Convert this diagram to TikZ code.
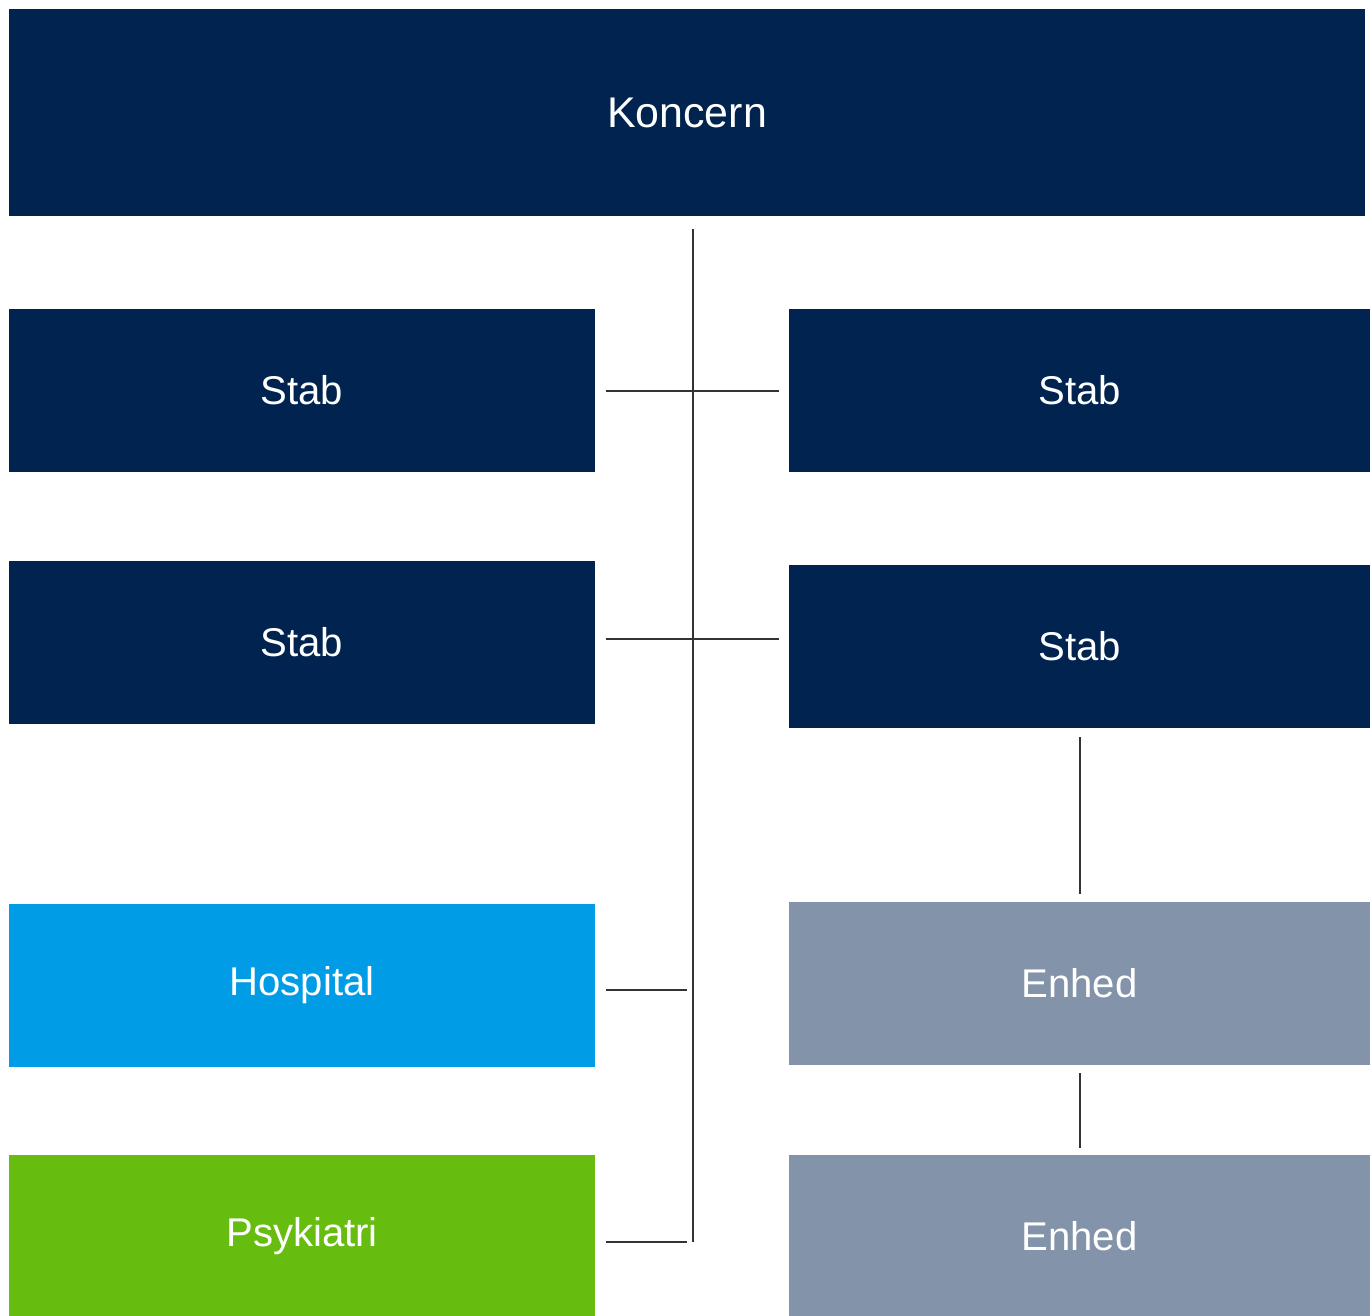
\documentclass[tikz,border=0pt]{standalone}
\usepackage{fontspec}
\setmainfont{Liberation Sans}
\usetikzlibrary{positioning}
\definecolor{navy}{HTML}{00244F}
\definecolor{hospblue}{HTML}{009CE6}
\definecolor{psykgreen}{HTML}{66BD10}
\definecolor{enhedgray}{HTML}{8293AA}
\definecolor{linegray}{HTML}{333333}
\tikzset{
    font=\fontsize{11.4}{13}\selectfont,
    %Define style for boxes
    kasse/.style={
           rectangle,
           text=white,
           inner sep=0pt,
           minimum width=5.86cm,
           minimum height=1.62cm},
    stab/.style={kasse,fill=navy},
    stabR/.style={kasse,fill=navy,minimum width=5.81cm},
    hospital/.style={kasse,fill=hospblue},
    psykiatri/.style={kasse,fill=psykgreen},
    enhed/.style={kasse,fill=enhedgray,minimum width=5.81cm},
    koncern/.style={kasse,fill=navy,minimum width=13.56cm,minimum height=2.07cm,
           font=\fontsize{12.2}{14}\selectfont},
    % Define line style
    linje/.style={
           draw=linegray,
           line width=0.02cm}
}

\begin{document}
\begin{tikzpicture}[x=0.01cm,y=-0.01cm]
  \useasboundingbox (0,0) rectangle (1370,1315);
  \node[koncern] (k) at (687,112.5) {Koncern};
  \node[stab] (s1) at (302,390.5) {Stab};
  \node[stab] (s2) at (302,642.5) {Stab};
  \node[hospital] (hosp) at (302,985.5) {Hospital};
  \node[psykiatri] (psyk) at (302,1236) {Psykiatri};
  \node[stabR] (r1) at (1079.5,390.5) {Stab};
  \node[stabR] (r2) at (1079.5,646.5) {Stab};
  \node[enhed] (e1) at (1079.5,983.5) {Enhed};
  \node[enhed] (e2) at (1079.5,1236) {Enhed};
  % trunk
  \coordinate (bund) at (693,1242);
  \draw[linje,shorten <=0.12cm] (k.south -| bund) -- (bund);
  \draw[linje,shorten <=0.1cm,shorten >=0.09cm] (s1.east) -- (r1.west);
  \draw[linje,shorten <=0.1cm,shorten >=0.09cm] ([yshift=0.035cm]s2.east) -- ([yshift=0.035cm]s2.east -| r2.west);
  \draw[linje,shorten <=0.1cm,shorten >=0.06cm] ([yshift=-0.045cm]hosp.east) -- ([yshift=-0.045cm]hosp.east -| bund);
  \draw[linje,shorten <=0.1cm,shorten >=0.06cm] (psyk.east |- bund) -- (bund);
  \draw[linje,shorten <=0.09cm,shorten >=0.08cm] (r2.south) -- (e1.north);
  \draw[linje,shorten <=0.08cm,shorten >=0.06cm] (e1.south) -- (e2.north);
\end{tikzpicture}
\end{document}
